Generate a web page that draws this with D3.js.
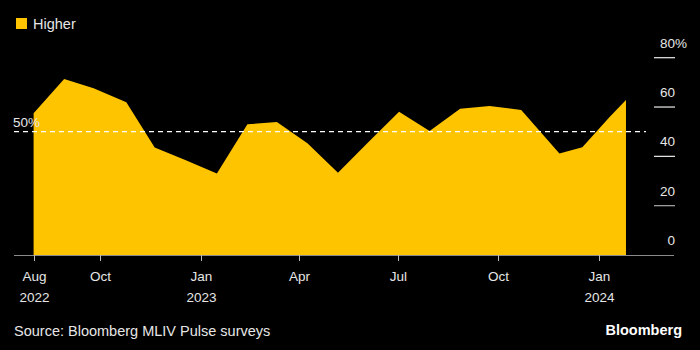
<!DOCTYPE html>
<html>
<head>
<meta charset="utf-8">
<script src="https://cdn.jsdelivr.net/npm/d3@7"></script>
<style>
  html, body { margin: 0; padding: 0; background: #000; }
  svg { display: block; }
  text { font-family: "Liberation Sans", Arial, sans-serif; }
</style>
</head>
<body>
<svg id="chart" width="700" height="350"></svg>
<script>
const dates = ["2022-08-01","2022-08-29","2022-09-25","2022-10-25","2022-11-20","2022-12-18",
  "2023-01-16","2023-02-13","2023-03-12","2023-04-09","2023-05-07","2023-06-04","2023-07-02",
  "2023-07-30","2023-08-27","2023-09-23","2023-10-22","2023-11-26","2023-12-17","2024-01-11","2024-01-26"];
const higher = [57.5, 71.4, 67.6, 61.9, 43.6, 38.5, 33.0, 53.0, 53.9, 45.3, 33.4, 45.8, 58.1,
  50.3, 59.3, 60.4, 58.8, 41.2, 43.7, 56.0, 62.8];
const yTicks = [0, 20, 40, 60, 80];
const xTickDates = ["2022-08-01","2022-10-01","2023-01-01","2023-04-01","2023-07-01","2023-10-01","2024-01-01"];
const xTickLabels = [["Aug","2022"],["Oct",""],["Jan","2023"],["Apr",""],["Jul",""],["Oct",""],["Jan","2024"]];
const refValue = 50;
const seriesName = "Higher";
const sourceText = "Source: Bloomberg MLIV Pulse surveys";

const parse = d3.utcParse("%Y-%m-%d");
const data = dates.map((d, i) => ({ date: parse(d), value: higher[i] }));

const svg = d3.select("#chart");
const yellow = "#ffc400";
const textCol = "#e6e6e6";

const x = d3.scaleUtc()
  .domain([parse("2022-08-01"), parse("2024-01-01")])
  .range([33.6, 598.7]);
const y = d3.scaleLinear().domain([0, 80]).range([255, 57.7]);

// Area
const area = d3.area()
  .x(d => x(d.date))
  .y0(y(0))
  .y1(d => y(d.value));
svg.append("path").datum(data).attr("d", area).attr("fill", yellow);

// Baseline axis line
svg.append("line").attr("x1", 14).attr("x2", 674).attr("y1", y(0) + 0.5).attr("y2", y(0) + 0.5)
  .attr("stroke", "#8a8a8a").attr("stroke-width", 1.2);

// X ticks and labels
const xg = svg.append("g");
xTickDates.forEach((ds, i) => {
  const xv = Math.round(x(parse(ds))) + 0.5;
  xg.append("line").attr("x1", xv).attr("x2", xv).attr("y1", y(0)).attr("y2", y(0) + 6)
    .attr("stroke", "#bbb").attr("stroke-width", 1);
  xg.append("text").attr("x", xv).attr("y", 281).attr("text-anchor", "middle")
    .attr("fill", textCol).attr("font-size", 13.5).text(xTickLabels[i][0]);
  if (xTickLabels[i][1]) {
    xg.append("text").attr("x", xv).attr("y", 301.5).attr("text-anchor", "middle")
      .attr("fill", textCol).attr("font-size", 13.5).text(xTickLabels[i][1]);
  }
});

// Y ticks (right side)
const yg = svg.append("g");
yTicks.forEach(t => {
  const yv = y(t);
  if (t !== 0) {
    yg.append("line").attr("x1", 654).attr("x2", 675).attr("y1", yv).attr("y2", yv)
      .attr("stroke", t === 20 ? "#aaa" : "#eee").attr("stroke-width", 1.2);
  }
  yg.append("text").attr("x", 675).attr("y", yv - 10).attr("text-anchor", "end")
    .attr("fill", textCol).attr("font-size", 13.5).text(t);
  if (t === 80) {
    yg.append("text").attr("x", 675).attr("y", yv - 10).attr("text-anchor", "start")
      .attr("fill", textCol).attr("font-size", 13.5).text("%");
  }
});

// Reference dashed line
svg.append("line").attr("x1", 14).attr("x2", 646).attr("y1", y(refValue)).attr("y2", y(refValue))
  .attr("stroke", "#fff").attr("stroke-width", 1.3).attr("stroke-dasharray", "5,4");
svg.append("text").attr("x", 13).attr("y", y(refValue) - 5).attr("fill", textCol)
  .attr("font-size", 13.5).text(refValue + "%");

// Legend
svg.append("rect").attr("x", 16).attr("y", 18).attr("width", 11).attr("height", 11).attr("fill", yellow);
svg.append("text").attr("x", 33).attr("y", 28.5).attr("fill", textCol).attr("font-size", 14.5).text(seriesName);

// Footer
svg.append("text").attr("x", 14).attr("y", 336).attr("fill", textCol).attr("font-size", 14.5).text(sourceText);
svg.append("text").attr("x", 682).attr("y", 335).attr("text-anchor", "end").attr("fill", "#fff")
  .attr("font-size", 14.5).attr("font-weight", "bold").text("Bloomberg");
</script>
</body>
</html>
